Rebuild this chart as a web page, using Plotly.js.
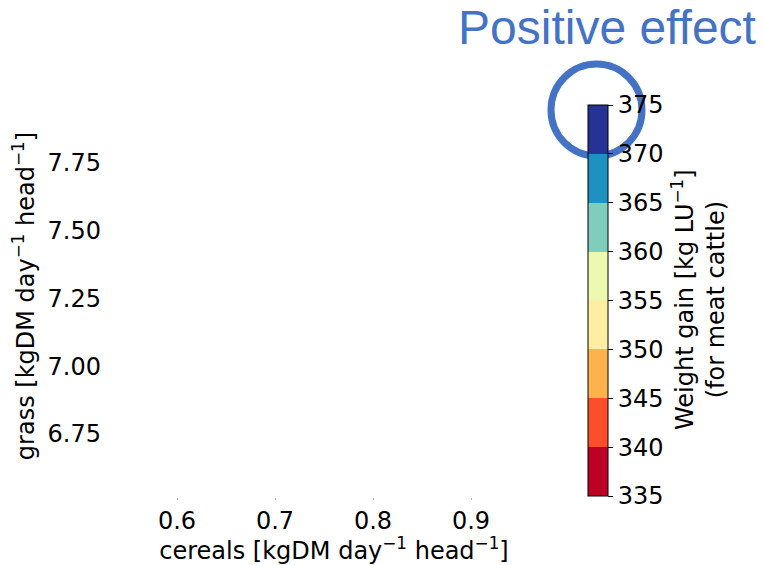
<!DOCTYPE html>
<html>
<head>
<meta charset="utf-8">
<script src="https://cdn.plot.ly/plotly-3.0.1.min.js"></script>
<style>html,body{margin:0;padding:0;background:#fff;}#chart{width:764px;height:565px;}</style>
</head>
<body>
<div id="chart"></div>
<script>
// Data (plot area is empty in the reference; only the colour scale is shown)
var cerealTicks = [0.6, 0.7, 0.8, 0.9];
var grassTicks = [6.75, 7.00, 7.25, 7.50, 7.75];
var grassTickLabels = ["6.75", "7.00", "7.25", "7.50", "7.75"];
var weightLevels = [335, 340, 345, 350, 355, 360, 365, 370, 375];
var bandColors = ["#bd0026", "#fc4e2a", "#feb24c", "#ffeda0", "#edf8b1", "#7fcdbb", "#1d91c0", "#253494"];
// no visible data points in the reference plot area
var cerealValues = [null];
var grassValues = [null];

var nb = bandColors.length;
var cs = [];
for (var i = 0; i < nb; i++) {
  cs.push([i / nb, bandColors[i]]);
  cs.push([(i + 1) / nb, bandColors[i]]);
}

var font = "DejaVu Sans, sans-serif";
var L = 108, R = 204, T = 95, B = 68;
var PW = 764 - L - R, PH = 565 - T - B;

var trace = {
  type: "scatter",
  mode: "markers",
  x: cerealValues,
  y: grassValues,
  hoverinfo: "skip",
  showlegend: false,
  marker: {
    color: weightLevels[0],
    colorscale: cs,
    cmin: weightLevels[0],
    cmax: weightLevels[weightLevels.length - 1],
    showscale: true,
    colorbar: {
      x: (588 - L) / PW, xanchor: "left",
      y: (565 - B - 496) / PH, yanchor: "bottom",
      len: 391, lenmode: "pixels",
      thickness: 20, thicknessmode: "pixels",
      xpad: 0, ypad: 0,
      outlinewidth: 1, outlinecolor: "#000",
      tickmode: "array", tickvals: weightLevels, ticktext: weightLevels.map(String),
      ticks: "outside", ticklen: 5, tickcolor: "#000",
      tickfont: {family: font, size: 24, color: "#000"}
    }
  }
};

var layout = {
  width: 764, height: 565,
  paper_bgcolor: "#fff", plot_bgcolor: "#fff",
  margin: {l: L, r: R, t: T, b: B},
  showlegend: false,
  font: {family: font, color: "#000"},
  xaxis: {
    range: [0.5296, 0.9908],
    tickmode: "array", tickvals: cerealTicks, ticktext: cerealTicks.map(function (v) { return v.toFixed(1); }),
    showgrid: false, zeroline: false, showline: false,
    ticks: "outside", ticklen: 2, tickcolor: "#bbb", tickwidth: 1,
    tickfont: {family: font, size: 24, color: "#000"},
    title: {text: "cereals [kgDM day<sup>−1</sup> head<sup>−1</sup>]", font: {family: font, size: 24, color: "#000"}, standoff: 2}
  },
  yaxis: {
    range: [6.5175, 8.0],
    tickmode: "array", tickvals: grassTicks, ticktext: grassTickLabels,
    showgrid: false, zeroline: false, showline: false,
    ticks: "", ticklabelstandoff: 6,
    tickfont: {family: font, size: 24, color: "#000"},
    title: {text: "grass [kgDM day<sup>−1</sup> head<sup>−1</sup>]", font: {family: font, size: 24, color: "#000"}, standoff: 6}
  },
  shapes: [{
    type: "circle", xref: "paper", yref: "paper", layer: "above",
    x0: (551 - L) / PW, x1: (642 - L) / PW,
    y0: (565 - B - 156) / PH, y1: (565 - B - 64) / PH,
    line: {color: "#4472c4", width: 7}
  }],
  annotations: [{
    xref: "paper", yref: "paper",
    x: (758 - L) / PW, y: (565 - B - 27) / PH,
    xanchor: "right", yanchor: "middle",
    text: "Positive effect", showarrow: false,
    font: {family: "Liberation Sans, Arial, sans-serif", size: 48, color: "#4472c4"}
  }, {
    xref: "paper", yref: "paper",
    x: (698 - L) / PW, y: (565 - B - 300) / PH,
    xanchor: "center", yanchor: "middle",
    textangle: -90, showarrow: false,
    text: "Weight gain [kg LU<sup>−1</sup>]<br>(for meat cattle)",
    font: {family: font, size: 24, color: "#000"}
  }]
};

Plotly.newPlot("chart", [trace], layout, {displayModeBar: false, staticPlot: true});
</script>
</body>
</html>
